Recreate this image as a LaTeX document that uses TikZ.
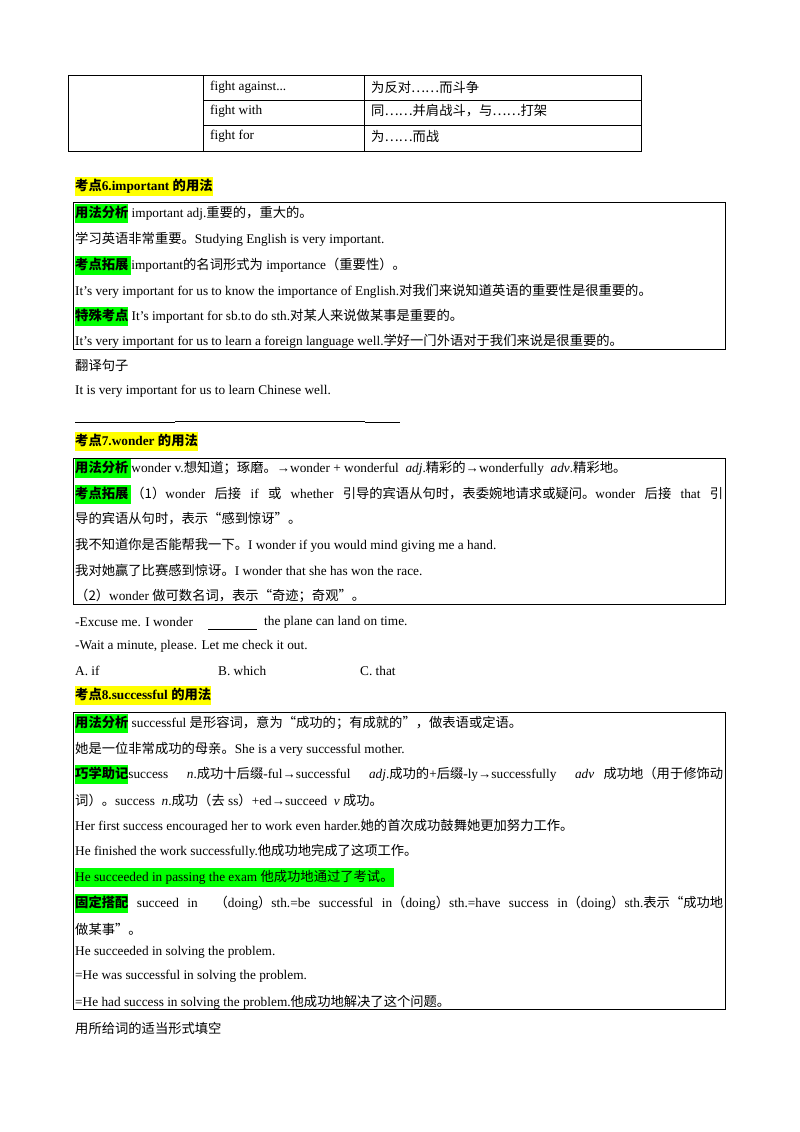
\documentclass[tikz,border=0pt]{standalone}
\usepackage{fontspec}
\setmainfont{Liberation Serif}
\newfontfamily\cjk{Noto Sans CJK SC}
\definecolor{hg}{RGB}{0,255,0}
\definecolor{hy}{RGB}{255,255,0}
\newcommand\z[1]{{\cjk #1}}
\newcommand\gl[1]{{\fboxsep=0pt\colorbox{hg}{\rule[-5pt]{0pt}{19pt}\bfseries\cjk #1}}}
\newcommand\yl[1]{{\fboxsep=0pt\colorbox{hy}{\rule[-5pt]{0pt}{19pt}\bfseries #1}}}
\newcommand\fullw[1]{\makebox[648pt][s]{#1}}
\begin{document}
\begin{tikzpicture}[x=1pt,y=-1pt,
  t/.style={anchor=west,inner sep=0pt,font=\fontsize{13.3}{15}\selectfont},
  ln/.style={line width=0.8pt}]
\useasboundingbox (0,0) rectangle (800,1132);
% table
\draw[ln] (68,75) rectangle (641,151);
\draw[ln] (203,75) -- (203,151);
\draw[ln] (364,75) -- (364,151);
\draw[ln] (203,100) -- (641,100);
\draw[ln] (203,125) -- (641,125);
\node[t] (a1) at (210,87) {fight against...};
\node[t] (a2) at (371,87) {\z{为反对……而斗争}};
\node[t] (b1) at (210,111) {fight with};
\node[t] (b2) at (371,111) {\z{同……并肩战斗，与……打架}};
\node[t] (c1) at (210,136) {fight for};
\node[t] (c2) at (371,136) {\z{为……而战}};
% section 6
\node[t] (h6) at (75,186) {\yl{\z{考点}6.important \z{的用法}}};
\draw[ln] (73,202) rectangle (725,349);
\node[t] (p1) at (75,213) {\gl{用法分析} important adj.\z{重要的，重大的。}};
\node[t] (p2) at (75,239) {\z{学习英语非常重要。}Studying English is very important.};
\node[t] (p3) at (75,265) {\gl{考点拓展 }important\z{的名词形式为} importance\z{（重要性）。}};
\node[t] (p4) at (75,291) {It's very important for us to know the importance of English.\z{对我们来说知道英语的重要性是很重要的。}};
\node[t] (p5) at (75,316) {\gl{特殊考点} It's important for sb.to do sth.\z{对某人来说做某事是重要的。}};
\node[t] (p6) at (75,341) {It's very important for us to learn a foreign language well.\z{学好一门外语对于我们来说是很重要的。}};
\node[t] (q1) at (75,365) {\z{翻译句子}};
\node[t] (q2) at (75,391) {It is very important for us to learn Chinese well.};
\draw[line width=0.6pt] (75,422) -- (175,422);
\draw[line width=0.6pt] (175,421) -- (365,421);
\draw[line width=0.6pt] (365,422) -- (400,422);
% section 7
\node[t] (h7) at (75,441) {\yl{\z{考点}7.wonder \z{的用法}}};
\draw[ln] (73,458) rectangle (725,604);
\node[t] (r1) at (75,468) {\gl{用法分析 }wonder v.\z{想知道；琢磨。}→wonder + wonderful\ \ \textit{adj}.\z{精彩的}→wonderfully\ \ \textit{adv}.\z{精彩地。}};
\node[t] (r2) at (75,494) {\fullw{\gl{考点拓展 }\z{（1）}wonder \z{后接} if \z{或} whether \z{引导的宾语从句时，表委婉地请求或疑问。}wonder \z{后接} that \z{引}}};
\node[t] (r3) at (75,519) {\z{导的宾语从句时，表示“感到惊讶”。}};
\node[t] (r4) at (75,545) {\z{我不知道你是否能帮我一下。}I wonder if you would mind giving me a hand.};
\node[t] (r5) at (75,570) {\z{我对她赢了比赛感到惊讶。}I wonder that she has won the race.};
\node[t] (r6) at (75,596) {\z{（2）}wonder \z{做可数名词，表示“奇迹；奇观”。}};
\node[t] (s1) at (75,622) {-Excuse me. I wonder};
\draw[line width=0.6pt] (208,629) -- (257,629);
\node[t] (s1b) at (264,622) {the plane can land on time.};
\node[t] (s2) at (75,646) {-Wait a minute, please. Let me check it out.};
\node[t] (oa) at (75,671) {A. if};
\node[t] (ob) at (218,671) {B. which};
\node[t] (oc) at (360,671) {C. that};
% section 8
\node[t] (h8) at (75,695) {\yl{\z{考点}8.successful \z{的用法}}};
\draw[ln] (73,712) rectangle (725,1009);
\node[t] (u1) at (75,723) {\gl{用法分析} successful \z{是形容词，意为“成功的；有成就的”，做表语或定语。}};
\node[t] (u2) at (75,749) {\z{她是一位非常成功的母亲。}She is a very successful mother.};
\node[t] (u3) at (75,774) {\fullw{\gl{巧学助记}success\ \ \textit{n}.\z{成功十后缀}-ful→successful\ \ \textit{adj}.\z{成功的}+\z{后缀}-ly→successfully\ \ \textit{adv} \z{成功地（用于修饰动}}};
\node[t] (u4) at (75,800) {\z{词）。}success\ \ \textit{n}.\z{成功（去} ss\z{）}+ed→succeed\ \ \textit{v} \z{成功。}};
\node[t] (u5) at (75,826) {Her first success encouraged her to work even harder.\z{她的首次成功鼓舞她更加努力工作。}};
\node[t] (u6) at (75,851) {He finished the work successfully.\z{他成功地完成了这项工作。}};
\node[t] (u7) at (75,877) {{\fboxsep=0pt\colorbox{hg}{\rule[-5pt]{0pt}{19pt}He succeeded in passing the exam \z{他成功地通过了考试。}}}};
\node[t] (u8) at (75,903) {\fullw{\gl{固定搭配} succeed in\ \ \z{（}doing\z{）}sth.=be successful in\z{（}doing\z{）}sth.=have success in\z{（}doing\z{）}sth.\z{表示“成功地}}};
\node[t] (u9) at (75,929) {\z{做某事”。}};
\node[t] (u10) at (75,952) {He succeeded in solving the problem.};
\node[t] (u11) at (75,976) {=He was successful in solving the problem.};
\node[t] (u12) at (75,1002) {=He had success in solving the problem.\z{他成功地解决了这个问题。}};
\node[t] (v1) at (75,1028) {\z{用所给词的适当形式填空}};
\end{tikzpicture}
\end{document}
